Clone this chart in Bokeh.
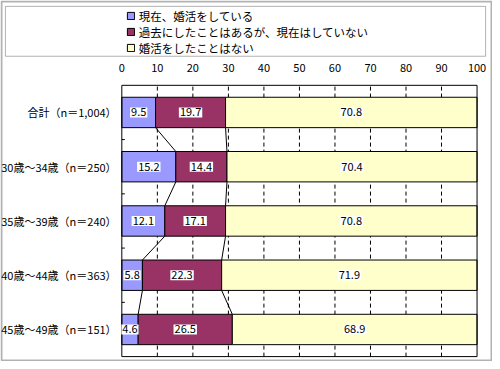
from bokeh.plotting import figure
from bokeh.models import Range1d, ColumnDataSource, Legend, LegendItem, BoxAnnotation
from bokeh.core.properties import value
from bokeh.embed import file_html
from bokeh.resources import INLINE

# ---- data ----
categories = ["合計（n＝1,004）", "30歳～34歳（n＝250）", "35歳～39歳（n＝240）",
              "40歳～44歳（n＝363）", "45歳～49歳（n＝151）"]
series_names = ["現在、婚活をしている", "過去にしたことはあるが、現在はしていない", "婚活をしたことはない"]
current = [9.5, 15.2, 12.1, 5.8, 4.6]
past = [19.7, 14.4, 17.1, 22.3, 26.5]
never = [70.8, 70.4, 70.8, 71.9, 68.9]
x_ticks = [0, 10, 20, 30, 40, 50, 60, 70, 80, 90, 100]

# ---- style / layout (pixels) ----
colors = ["#9999FF", "#993366", "#FFFFCC"]
JP = "Noto Sans CJK JP"
W, H = 492, 361
SX, SY = W / 500, H / 369
PL, PR = 123.3 * SX, 484.3 * SX      # plot area left/right
PT, PB = 86.7 * SY, 364 * SY         # plot area top/bottom
bar_h = 0.56
n = len(categories)
ppx = (PR - PL) / (x_ticks[-1] - x_ticks[0])
upp = (PB - PT) / n


def dx(px):
    return x_ticks[0] + (px - PL) / ppx


def dy(py):
    return n - (py - PT) / upp


p = figure(width=W, height=H, output_backend="svg", toolbar_location=None,
           x_range=Range1d(dx(0), dx(W)), y_range=Range1d(dy(H), dy(0)),
           x_axis_location=None, y_axis_location=None, min_border=0)
p.grid.visible = False
p.background_fill_color = "white"
p.border_fill_color = "white"
p.outline_line_color = None

ypos = [n - i - 0.5 for i in range(n)]

# dashed vertical grid lines inside the plot area
p.segment(x0=x_ticks[1:-1], x1=x_ticks[1:-1], y0=0, y1=n,
          line_color="black", line_width=1, line_dash="4 3")

series = [current, past, never]
renderers, sources, cums = [], [], []
left = [0.0] * n
for vals, col in zip(series, colors):
    right = [l + v for l, v in zip(left, vals)]
    src = ColumnDataSource(dict(y=ypos, left=left, right=right,
                                mid=[(l + r) / 2 for l, r in zip(left, right)],
                                lbl=[f"{v:.1f}" for v in vals]))
    r = p.hbar(y="y", left="left", right="right", height=bar_h, source=src,
               fill_color=col, line_color="black", line_width=1)
    renderers.append(r)
    sources.append(src)
    cums.append(right)
    left = right

# plot frame
p.quad(left=x_ticks[0], right=x_ticks[-1], bottom=0, top=n,
       fill_color=None, line_color="black", line_width=1)

# connecting lines between neighbouring bars
for cum in cums[:2]:
    p.segment(x0=cum[:-1], x1=cum[1:],
              y0=[y - bar_h / 2 for y in ypos[:-1]],
              y1=[y + bar_h / 2 for y in ypos[1:]],
              line_color="black", line_width=1)

# small inner ticks at category boundaries
p.segment(x0=x_ticks[0], x1=x_ticks[0] + 3 / ppx,
          y0=[y + 0.5 for y in ypos[1:]], y1=[y + 0.5 for y in ypos[1:]],
          line_color="black", line_width=1)

# value labels
for src in sources:
    p.text(x="mid", y="y", text="lbl", source=src, text_align="center",
           text_baseline="middle", text_font=value(JP), text_font_size="11px",
           text_color="black", background_fill_color="white", padding=1)

# x tick labels (top)
p.text(x=x_ticks, y=[dy(68.5 * SY)] * len(x_ticks), text=[str(t) for t in x_ticks],
       text_align="center", text_baseline="middle", text_font=value(JP),
       text_font_size="11px", text_color="black")

# category labels (left)
p.text(x=[dx(118 * SX)] * n, y=ypos, text=categories,
       text_align="right", text_baseline="middle", text_font=value(JP),
       text_font_size="11px", text_color="black")

# legend box and outer border
p.add_layout(BoxAnnotation(left=dx(5 * SX), right=dx(493 * SX),
                           top=dy(6 * SY), bottom=dy(57 * SY),
                           fill_alpha=0, line_color="black", line_width=1))
p.add_layout(BoxAnnotation(left=dx(1), right=dx(W - 1), top=dy(1), bottom=dy(H - 1),
                           fill_alpha=0, line_color="black", line_width=2))

LH = 16
leg_top = 16 * SY - LH / 2
legend = Legend(items=[LegendItem(label=nm, renderers=[r]) for nm, r in zip(series_names, renderers)],
                location=(127.7 * SX, H - (leg_top + 3 * LH)), padding=0, margin=0, spacing=0,
                label_height=LH, glyph_height=9, glyph_width=9, label_standoff=4,
                label_text_font=JP, label_text_font_size="11.5px", label_text_color="black",
                border_line_color=None, background_fill_alpha=0)
p.add_layout(legend)

open("out.html", "w").write(file_html(p, INLINE))
